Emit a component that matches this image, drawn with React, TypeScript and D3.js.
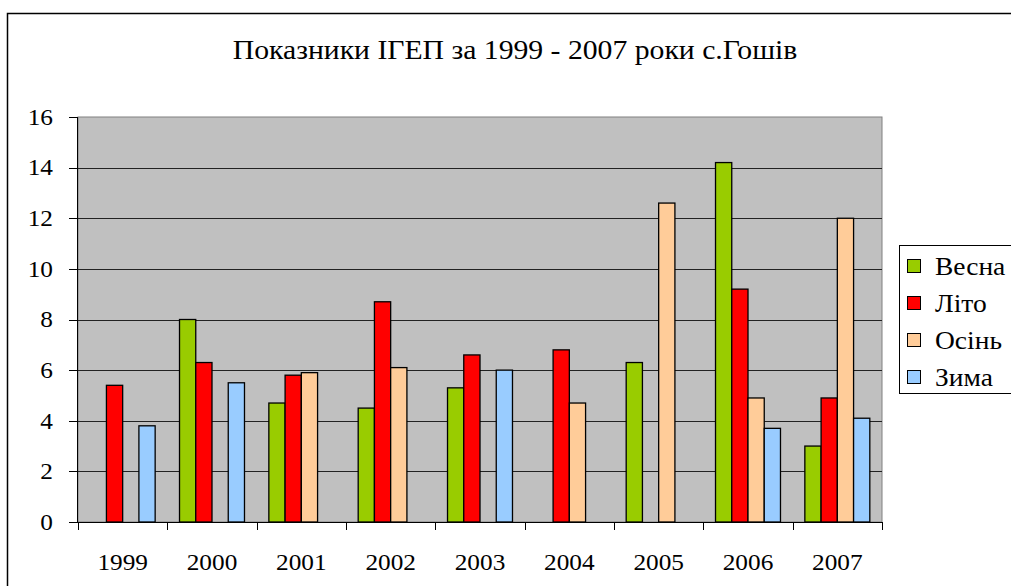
import React from 'react';
import * as d3 from 'd3';

const years = ['1999', '2000', '2001', '2002', '2003', '2004', '2005', '2006', '2007'];
const seasons = ['Весна', 'Літо', 'Осінь', 'Зима'];
const colors = ['#99CC00', '#FF0000', '#FFCC99', '#99CCFF'];

// null = no bar for that year
const vesna = [null, 8.0, 4.7, 4.5, 5.3, null, 6.3, 14.2, 3.0];
const lito = [5.4, 6.3, 5.8, 8.7, 6.6, 6.8, null, 9.2, 4.9];
const osin = [null, null, 5.9, 6.1, null, 4.7, 12.6, 4.9, 12.0];
const zyma = [3.8, 5.5, null, null, 6.0, null, null, 3.7, 4.1];

const yTicks = [0, 2, 4, 6, 8, 10, 12, 14, 16];
const title = 'Показники ІГЕП за 1999 - 2007 роки с.Гошів';

const plot = { left: 78, top: 117, right: 882, bottom: 522 };
const font = { fontFamily: "'Liberation Serif'" };

// text in the source is a little stretched sideways
const Label = ({ x, y, size, anchor = 'start', dy, children }: any) => (
    <text transform={`translate(${x},${y}) scale(1.1,1)`} dy={dy} textAnchor={anchor} fontSize={size} style={font}>
        {children}
    </text>
);

const App = () => {
    const x = d3.scaleBand().domain(years).range([plot.left, plot.right]);
    const gap = 1.5;
    const barW = x.bandwidth() / (seasons.length + gap);
    const y = d3.scaleLinear().domain([0, 16]).range([plot.bottom, plot.top]);
    const series = [vesna, lito, osin, zyma];
    const crisp = (v: number) => Math.round(v) + 0.5;

    return (
        <svg width={1011} height={586} style={{ display: 'block', position: 'absolute', left: 0, top: 0 }}>
            {/* outer chart frame */}
            <rect x={7.5} y={13.5} width={1010} height={600} fill="#fff" stroke="#000" strokeWidth={1.5} />

            <Label x={515} y={59} size={27} anchor="middle">{title}</Label>

            <rect x={plot.left} y={plot.top} width={plot.right - plot.left} height={plot.bottom - plot.top}
                fill="#C0C0C0" stroke="#808080" />

            {/* grid lines */}
            {yTicks.filter(t => t > 0 && t < 16).map(t => (
                <line key={t} x1={plot.left} x2={plot.right} y1={crisp(y(t))} y2={crisp(y(t))} stroke="#222" />
            ))}

            {/* bars */}
            {series.map((vals, si) => vals.map((v, i) => v === null ? null : (
                <rect key={`${si}-${i}`}
                    x={x(years[i])! + (gap / 2) * barW + si * barW}
                    y={y(v)}
                    width={barW}
                    height={plot.bottom - y(v)}
                    fill={colors[si]} stroke="#000" strokeWidth={1.3} />
            )))}

            {/* y axis */}
            <line x1={plot.left - 0.5} x2={plot.left - 0.5} y1={plot.top} y2={plot.bottom} stroke="#000" />
            {yTicks.map(t => (
                <g key={t}>
                    <line x1={plot.left - 9} x2={plot.left} y1={crisp(y(t))} y2={crisp(y(t))} stroke="#000" />
                    <Label x={plot.left - 25} y={y(t)} dy="0.34em" anchor="end" size={23}>{t}</Label>
                </g>
            ))}

            {/* x axis, ticks on category boundaries */}
            <line x1={plot.left} x2={plot.right} y1={plot.bottom + 0.5} y2={plot.bottom + 0.5} stroke="#000" />
            {years.concat(['end']).map((d, i) => (
                <line key={d} x1={crisp(plot.left + i * x.step())} x2={crisp(plot.left + i * x.step())}
                    y1={plot.bottom} y2={plot.bottom + 8} stroke="#000" />
            ))}
            {years.map(yr => (
                <Label key={yr} x={x(yr)! + x.bandwidth() / 2} y={570} anchor="middle" size={23}>{yr}</Label>
            ))}

            {/* legend */}
            <rect x={899.5} y={245.5} width={130} height={148} fill="#fff" stroke="#000" />
            {seasons.map((s, i) => {
                const cy = 267 + i * 37;
                return (
                    <g key={s}>
                        <rect x={907.5} y={cy - 7.5} width={13} height={13} fill={colors[i]} stroke="#000" />
                        <Label x={935} y={cy + 8} size={25}>{s}</Label>
                    </g>
                );
            })}
        </svg>
    );
};

export default App;
